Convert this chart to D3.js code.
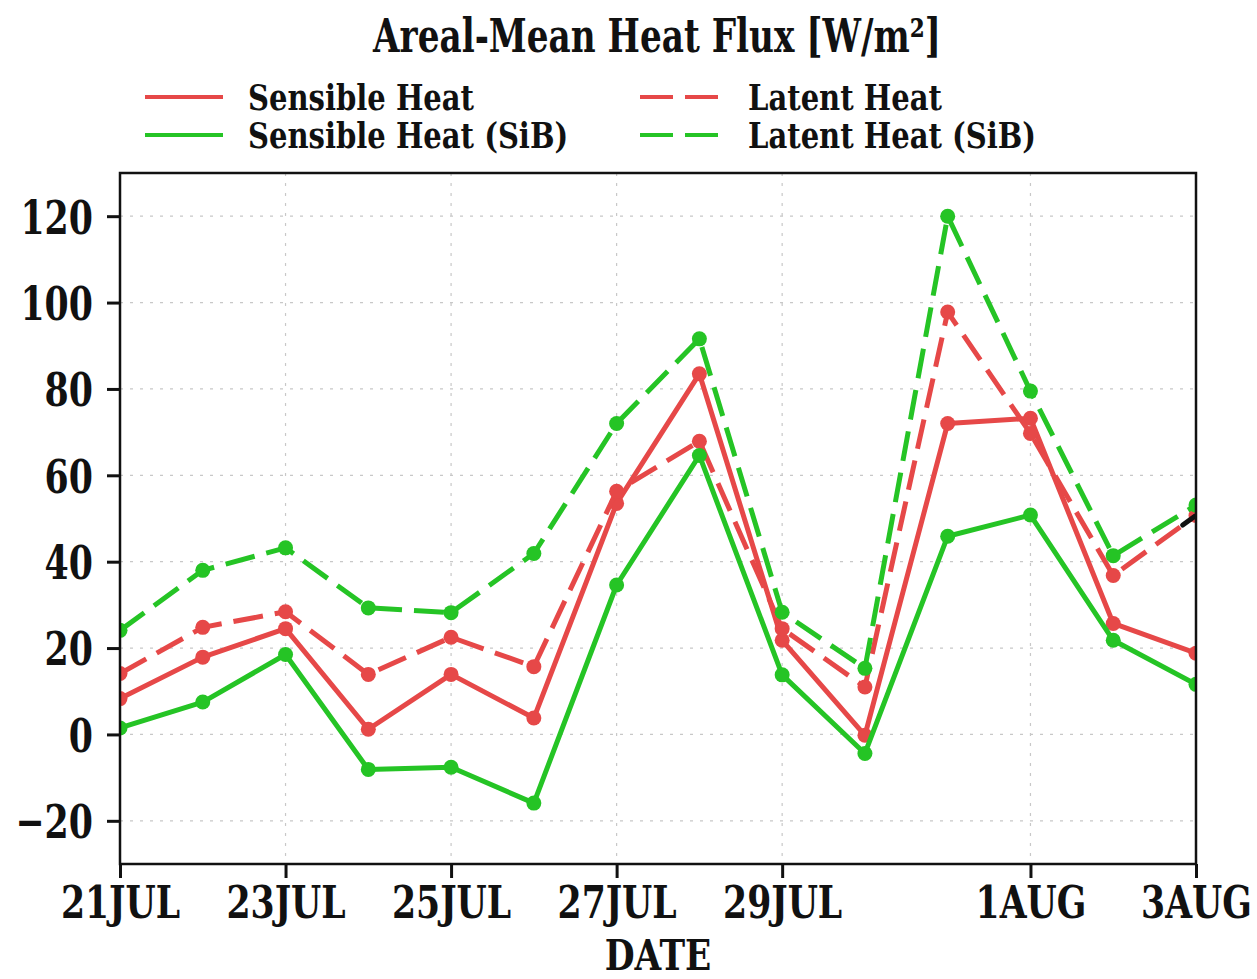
<!DOCTYPE html>
<html>
<head>
<meta charset="utf-8">
<script src="https://cdn.jsdelivr.net/npm/d3@7"></script>
<style>
  html, body { margin: 0; padding: 0; background: #fff; }
  svg { display: block; }
  text { font-family: "DejaVu Serif", serif; font-weight: bold; fill: #111; }
</style>
</head>
<body>
<svg id="chart" width="1257" height="979"></svg>
<script>
// Daily areal-mean surface heat fluxes, 21 JUL – 3 AUG (W/m^2)
const days = ["21JUL","22JUL","23JUL","24JUL","25JUL","26JUL","27JUL",
              "28JUL","29JUL","30JUL","31JUL","1AUG","2AUG","3AUG"];
const tickDays = ["21JUL","23JUL","25JUL","27JUL","29JUL","1AUG","3AUG"];
const yTicks = [-20, 0, 20, 40, 60, 80, 100, 120];

const sensible    = [8.3, 17.9, 24.5, 1.2, 13.9, 3.8, 53.5, 83.5, 21.8, -0.2, 72.0, 73.2, 25.7, 18.8];
const latent      = [14.1, 24.8, 28.4, 13.9, 22.5, 15.7, 56.3, 67.9, 24.5, 11.0, 97.8, 69.7, 36.8, 50.7];
const sensibleSiB = [1.5, 7.5, 18.5, -8.1, -7.6, -15.9, 34.6, 64.6, 13.8, -4.4, 45.9, 50.8, 21.8, 11.6];
const latentSiB   = [24.1, 38.0, 43.2, 29.3, 28.2, 41.9, 72.0, 91.6, 28.3, 15.3, 120.0, 79.5, 41.4, 53.1];

const seriesNames = ["Sensible Heat", "Latent Heat", "Sensible Heat (SiB)", "Latent Heat (SiB)"];

const RED = "#e64848", GREEN = "#25c425";
const series = [
  { name: seriesNames[0], values: sensible,    color: RED,   dash: null },
  { name: seriesNames[1], values: latent,      color: RED,   dash: "30,12" },
  { name: seriesNames[2], values: sensibleSiB, color: GREEN, dash: null },
  { name: seriesNames[3], values: latentSiB,   color: GREEN, dash: "30,12" }
];

const svg = d3.select("#chart");
const L = 120, R = 1196, T = 173, B = 864;

const x = d3.scalePoint().domain(days).range([L, R]);
const y = d3.scaleLinear().domain([-30, 130]).range([B, T]);

// horizontally condense a text selection around its own anchor point
function squeeze(sel, k) {
  sel.each(function () {
    const t = d3.select(this);
    const x0 = +t.attr("x") || 0;
    t.attr("x", x0 / k).attr("transform", `scale(${k},1)`);
  });
}

// dotted grid
const grid = svg.append("g").attr("stroke", "#c8c8c8").attr("stroke-width", 1.2)
  .attr("stroke-dasharray", "3,7");
grid.selectAll(".gy").data(yTicks).join("line")
  .attr("x1", L).attr("x2", R).attr("y1", d => y(d)).attr("y2", d => y(d));
grid.selectAll(".gx").data(tickDays.slice(1, -1)).join("line")
  .attr("y1", T).attr("y2", B).attr("x1", d => x(d)).attr("x2", d => x(d));

// data lines clipped to the plot frame
svg.append("clipPath").attr("id", "plotClip")
  .append("rect").attr("x", L).attr("y", T).attr("width", R - L).attr("height", B - T);
const plot = svg.append("g").attr("clip-path", "url(#plotClip)");

const line = d3.line().x((d, i) => x(days[i])).y(d => y(d));

series.forEach(s => {
  const g = plot.append("g");
  g.append("path").datum(s.values)
    .attr("d", line)
    .attr("fill", "none")
    .attr("stroke", s.color)
    .attr("stroke-width", 5)
    .attr("stroke-linejoin", "round")
    .attr("stroke-dasharray", s.dash);
  g.selectAll("circle").data(s.values).join("circle")
    .attr("cx", (d, i) => x(days[i]))
    .attr("cy", d => y(d))
    .attr("r", 7.5)
    .attr("fill", s.color);
});

// short black stroke at the end of the latent-heat curve
{
  const n = latent.length;
  const ix = d3.interpolateNumber(x(days[n - 2]), x(days[n - 1]));
  const iy = d3.interpolateNumber(y(latent[n - 2]), y(latent[n - 1]));
  plot.append("line")
    .attr("x1", ix(0.84)).attr("y1", iy(0.84))
    .attr("x2", ix(0.99)).attr("y2", iy(0.99))
    .attr("stroke", "#111").attr("stroke-width", 5).attr("stroke-linecap", "round");
}

// frame
svg.append("rect").attr("x", L).attr("y", T).attr("width", R - L).attr("height", B - T)
  .attr("fill", "none").attr("stroke", "#111").attr("stroke-width", 2.5);

// y axis
const yAxis = svg.append("g").attr("transform", `translate(${L},0)`)
  .call(d3.axisLeft(y).tickValues(yTicks).tickSize(13).tickPadding(14)
    .tickFormat(d => d < 0 ? "\u2212" + Math.abs(d) : d));
yAxis.select(".domain").remove();
yAxis.selectAll(".tick line").attr("stroke", "#111").attr("stroke-width", 3);
yAxis.selectAll(".tick text").attr("font-size", 47).attr("font-family", "DejaVu Serif")
  .attr("font-weight", "bold").attr("fill", "#111").attr("dy", "0.36em")
  .call(squeeze, 0.74);

// x axis
const xAxis = svg.append("g").attr("transform", `translate(0,${B})`)
  .call(d3.axisBottom(x).tickValues(tickDays).tickSize(14).tickPadding(8));
xAxis.select(".domain").remove();
xAxis.selectAll(".tick line").attr("stroke", "#111").attr("stroke-width", 3);
xAxis.selectAll(".tick text").attr("font-size", 45).attr("font-family", "DejaVu Serif")
  .attr("font-weight", "bold").attr("fill", "#111").attr("dy", "0.72em")
  .call(squeeze, 0.77);

// axis title
svg.append("text").attr("x", (L + R) / 2).attr("y", 970)
  .attr("text-anchor", "middle").attr("font-size", 42).text("DATE")
  .call(squeeze, 0.82);

// chart title
svg.append("text").attr("x", 657).attr("y", 52)
  .attr("text-anchor", "middle").attr("font-size", 46)
  .text("Areal-Mean Heat Flux [W/m\u00b2]")
  .call(squeeze, 0.745);

// legend
const legendPos = [
  { lx: 145, tx: 248, ly: 97 },
  { lx: 640, tx: 748, ly: 97 },
  { lx: 145, tx: 248, ly: 135 },
  { lx: 640, tx: 748, ly: 135 }
];
series.forEach((s, i) => {
  const p = legendPos[i];
  svg.append("line")
    .attr("x1", p.lx).attr("x2", p.lx + 78)
    .attr("y1", p.ly).attr("y2", p.ly)
    .attr("stroke", s.color).attr("stroke-width", 4)
    .attr("stroke-dasharray", s.dash ? "33,12" : null);
  svg.append("text").attr("x", p.tx).attr("y", p.ly + 13)
    .attr("font-size", 35).text(s.name)
    .call(squeeze, 0.83);
});
</script>
</body>
</html>
